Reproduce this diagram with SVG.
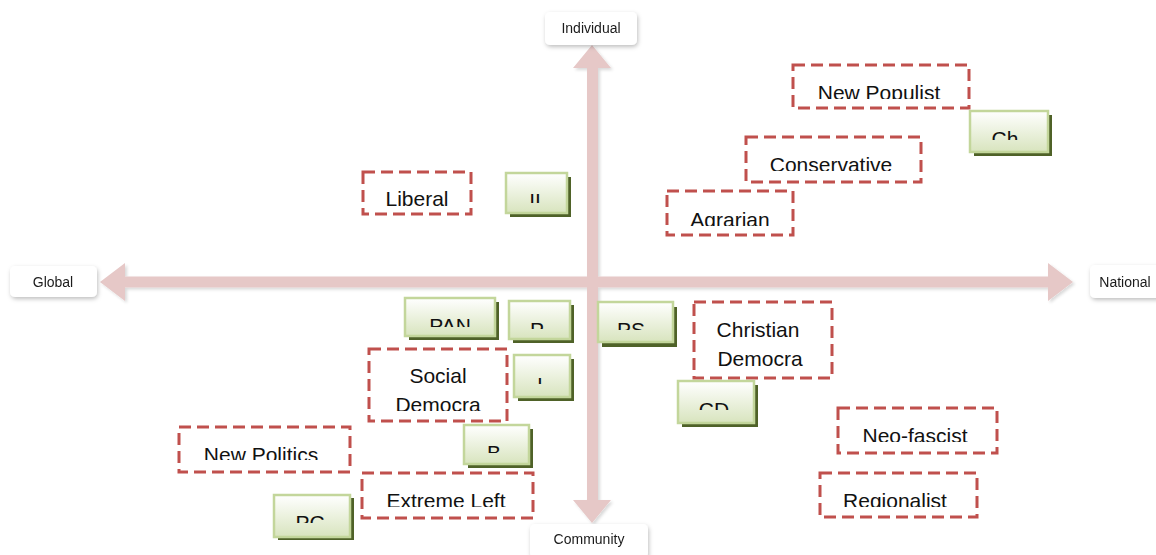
<svg xmlns="http://www.w3.org/2000/svg" width="1156" height="555" viewBox="0 0 1156 555">
  <defs>
    <linearGradient id="greenFill" x1="0" y1="0" x2="0" y2="1">
      <stop offset="0" stop-color="#FFFFFF"/>
      <stop offset="1" stop-color="#D8E4BE"/>
    </linearGradient>
    <filter id="softShadow" x="-20%" y="-20%" width="140%" height="160%">
      <feDropShadow dx="1" dy="2" stdDeviation="2" flood-color="#000000" flood-opacity="0.25"/>
    </filter>
    <filter id="arrowShadow" x="-5%" y="-5%" width="110%" height="110%">
      <feDropShadow dx="2" dy="2" stdDeviation="1.5" flood-color="#000000" flood-opacity="0.15"/>
    </filter>
    <!-- clip regions: each label is cut off at the bottom of its text frame -->
    <clipPath id="cNewPop"><rect x="793" y="65" width="176" height="34"/></clipPath>
    <clipPath id="cCh"><rect x="970" y="111" width="78" height="29"/></clipPath>
    <clipPath id="cCons"><rect x="746" y="137" width="175" height="34"/></clipPath>
    <clipPath id="cAgr"><rect x="667" y="191" width="126" height="35"/></clipPath>
    <clipPath id="cII"><rect x="506" y="173" width="61" height="30"/></clipPath>
    <clipPath id="cPAN"><rect x="405" y="298" width="90" height="29"/></clipPath>
    <clipPath id="cP"><rect x="509" y="301" width="61" height="28"/></clipPath>
    <clipPath id="cPS"><rect x="598" y="302" width="75" height="28"/></clipPath>
    <clipPath id="cSoc"><rect x="369" y="349" width="138" height="62"/></clipPath>
    <clipPath id="cI"><rect x="514" y="355" width="56" height="29"/></clipPath>
    <clipPath id="cCD"><rect x="678" y="381" width="76" height="29"/></clipPath>
    <clipPath id="cNeo"><rect x="838" y="408" width="159" height="34"/></clipPath>
    <clipPath id="cNewPol"><rect x="179" y="427" width="171" height="33"/></clipPath>
    <clipPath id="cB"><rect x="464" y="425" width="65" height="28"/></clipPath>
    <clipPath id="cExt"><rect x="362" y="473" width="171" height="34"/></clipPath>
    <clipPath id="cReg"><rect x="820" y="473" width="157" height="34"/></clipPath>
    <clipPath id="cPC"><rect x="274" y="495" width="76" height="28"/></clipPath>
  </defs>
  <style>
    .axis { fill: #E6C8C7; }
    .pole rect { fill: #FFFFFF; }
    .pole text { font-family: "Liberation Sans", Arial, sans-serif; font-size: 14px; fill: #1A1A1A; text-anchor: middle; }
    .family rect { fill: #FFFFFF; stroke: #C0504D; stroke-width: 3; stroke-dasharray: 12 6; }
    .family text { font-family: "Liberation Sans", Arial, sans-serif; font-size: 21px; fill: #111111; text-anchor: middle; }
    .party .shadow { fill: #4F6228; }
    .party .face { fill: url(#greenFill); stroke: #C3D69B; stroke-width: 2.5; }
    .party text { font-family: "Liberation Sans", Arial, sans-serif; font-size: 21px; fill: #111111; text-anchor: middle; }
  </style>

  <rect width="1156" height="555" fill="#FFFFFF"/>

  <!-- axes -->
  <g id="connectors" filter="url(#arrowShadow)">
    <!-- vertical double arrow: Individual / Community -->
    <polygon class="axis" points="592,45 611,68 598,68 598,500 611,500 592,523 573,500 587,500 587,68 573,68"/>
    <!-- horizontal double arrow: Global / National -->
    <polygon class="axis" points="100,282 125,263 125,276.5 1048,276.5 1048,263 1073,282 1048,301 1048,287.5 125,287.5 125,301"/>
  </g>

  <!-- axis poles -->
  <g id="pole-individual" class="pole" filter="url(#softShadow)">
    <rect x="545" y="12" width="92" height="33" rx="5"/>
    <text x="591" y="33">Individual</text>
  </g>
  <g id="pole-global" class="pole" filter="url(#softShadow)">
    <rect x="10" y="266" width="87" height="31" rx="5"/>
    <text x="53" y="287">Global</text>
  </g>
  <g id="pole-national" class="pole" filter="url(#softShadow)">
    <rect x="1090" y="265" width="72" height="33" rx="5"/>
    <text x="1125" y="287">National</text>
  </g>
  <g id="pole-community" class="pole" filter="url(#softShadow)">
    <rect x="530" y="524" width="118" height="34" rx="5"/>
    <text x="589" y="544">Community</text>
  </g>

  <!-- party families (dashed frames) -->
  <g id="fam-new-populist" class="family">
    <rect x="793" y="65" width="176" height="43"/>
    <text x="879" y="100" clip-path="url(#cNewPop)">New Populist</text>
  </g>
  <g id="fam-conservative" class="family">
    <rect x="746" y="137" width="175" height="45"/>
    <text x="831" y="172" clip-path="url(#cCons)">Conservative</text>
  </g>
  <g id="fam-agrarian" class="family">
    <rect x="667" y="191" width="126" height="44"/>
    <text x="730" y="227" clip-path="url(#cAgr)">Agrarian</text>
  </g>
  <g id="fam-liberal" class="family">
    <rect x="363" y="172" width="108" height="42"/>
    <text x="417" y="206">Liberal</text>
  </g>
  <g id="fam-social-democrat" class="family">
    <rect x="369" y="349" width="138" height="72"/>
    <g clip-path="url(#cSoc)">
      <text x="438" y="383">Social</text>
      <text x="438" y="412">Democra</text>
    </g>
  </g>
  <g id="fam-christian-democrat" class="family">
    <rect x="694" y="302" width="138" height="76"/>
    <text x="758" y="337">Christian</text>
    <text x="760" y="366">Democra</text>
  </g>
  <g id="fam-new-politics" class="family">
    <rect x="179" y="427" width="171" height="45"/>
    <text x="261" y="462" clip-path="url(#cNewPol)">New Politics</text>
  </g>
  <g id="fam-extreme-left" class="family">
    <rect x="362" y="473" width="171" height="45"/>
    <text x="446" y="508" clip-path="url(#cExt)">Extreme Left</text>
  </g>
  <g id="fam-neo-fascist" class="family">
    <rect x="838" y="408" width="159" height="45"/>
    <text x="915" y="443" clip-path="url(#cNeo)">Neo-fascist</text>
  </g>
  <g id="fam-regionalist" class="family">
    <rect x="820" y="473" width="157" height="44"/>
    <text x="895" y="508" clip-path="url(#cReg)">Regionalist</text>
  </g>

  <!-- parties (green boxes) -->
  <g id="party-ch" class="party">
    <rect class="shadow" x="974" y="115" width="78" height="41"/>
    <rect class="face" x="970" y="111" width="78" height="41"/>
    <text x="1005" y="146" clip-path="url(#cCh)">Ch</text>
  </g>
  <g id="party-ii" class="party">
    <rect class="shadow" x="510" y="177" width="61" height="40"/>
    <rect class="face" x="506" y="173" width="61" height="40"/>
    <text x="535" y="208" clip-path="url(#cII)">II</text>
  </g>
  <g id="party-pan" class="party">
    <rect class="shadow" x="409" y="302" width="90" height="38"/>
    <rect class="face" x="405" y="298" width="90" height="38"/>
    <text x="450" y="333" clip-path="url(#cPAN)">PAN</text>
  </g>
  <g id="party-p" class="party">
    <rect class="shadow" x="513" y="305" width="61" height="38"/>
    <rect class="face" x="509" y="301" width="61" height="38"/>
    <text x="537" y="337" clip-path="url(#cP)">P</text>
  </g>
  <g id="party-ps" class="party">
    <rect class="shadow" x="602" y="307" width="75" height="40"/>
    <rect class="face" x="598" y="302" width="75" height="40"/>
    <text x="631" y="337" clip-path="url(#cPS)">PS</text>
  </g>
  <g id="party-i" class="party">
    <rect class="shadow" x="518" y="359" width="56" height="42"/>
    <rect class="face" x="514" y="355" width="56" height="42"/>
    <text x="540" y="392" clip-path="url(#cI)">I</text>
  </g>
  <g id="party-cd" class="party">
    <rect class="shadow" x="682" y="385" width="76" height="42"/>
    <rect class="face" x="678" y="381" width="76" height="42"/>
    <text x="714" y="417" clip-path="url(#cCD)">CD</text>
  </g>
  <g id="party-b" class="party">
    <rect class="shadow" x="468" y="429" width="65" height="39"/>
    <rect class="face" x="464" y="425" width="65" height="39"/>
    <text x="494" y="460" clip-path="url(#cB)">B</text>
  </g>
  <g id="party-pc" class="party">
    <rect class="shadow" x="278" y="498" width="76" height="42"/>
    <rect class="face" x="274" y="495" width="76" height="42"/>
    <text x="310" y="530" clip-path="url(#cPC)">PC</text>
  </g>
</svg>
